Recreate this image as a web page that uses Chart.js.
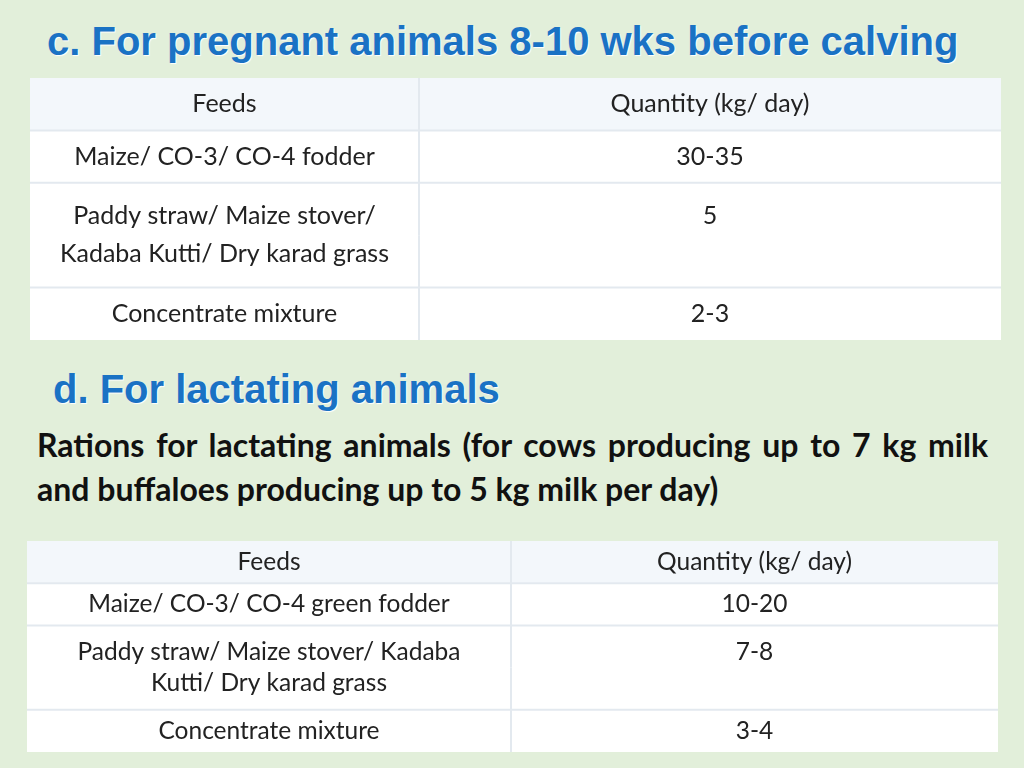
<!DOCTYPE html>
<html>
<head>
<meta charset="utf-8">
<script src="https://cdn.jsdelivr.net/npm/chart.js@4/dist/chart.umd.min.js"></script>
<style>
  body { margin: 0; width: 1024px; height: 768px; background: #e2efda; position: relative; overflow: hidden; }
  h2 { position: absolute; margin: 0; font: bold 40px 'Liberation Sans', Arial, sans-serif; line-height: 40px;
       color: #1a72c4; text-shadow: 1px 1px 1px #ffffff; white-space: nowrap; }
  #headC { left: 47px; top: 21px; }
  #headD { left: 53px; top: 369px; }
  .para { position: absolute; left: 37px; width: 951px; font: bold 32px Lato, sans-serif;
          line-height: 44px; color: #111; white-space: nowrap; }
  #para1 { top: 423px; text-align: justify; text-align-last: justify; }
  #para2 { top: 467px; text-align: left; }
  .tbl { position: absolute; }
  #boxC { left: 30px; top: 78px; width: 971px; height: 262px; }
  #boxD { left: 27px; top: 541px; width: 971px; height: 211px; }
</style>
</head>
<body>
<h2 id="headC">c. For pregnant animals 8-10 wks before calving</h2>
<h2 id="headD">d. For lactating animals</h2>
<div class="para" id="para1">Rations for lactating animals (for cows producing up to 7 kg milk</div>
<div class="para" id="para2">and buffaloes producing up to 5 kg milk per day)</div>
<div class="tbl" id="boxC"><canvas id="tableC"></canvas></div>
<div class="tbl" id="boxD"><canvas id="tableD"></canvas></div>

<script>
// c. pregnant animals - one entry per text line
var feedsC = ['Feeds', 'Maize/ CO-3/ CO-4 fodder', 'Paddy straw/ Maize stover/', 'Kadaba Kutti/ Dry karad grass', 'Concentrate mixture'];
var qtyC = ['Quantity (kg/ day)', '30-35', '5', '', '2-3'];
var rowC = [0, 1, 2, 2, 3]; // table row each line belongs to

// d. lactating animals
var feedsD = ['Feeds', 'Maize/ CO-3/ CO-4 green fodder', 'Paddy straw/ Maize stover/ Kadaba', 'Kutti/ Dry karad grass', 'Concentrate mixture'];
var qtyD = ['Quantity (kg/ day)', '10-20', '7-8', '', '3-4'];
var rowD = [0, 1, 2, 2, 3];

// column widths (units on the x scale)
var colsC = [389, 582];
var colsD = [484, 487];

var lineColor = '#e3e9ef';

// draws grid lines and cell text from the bar elements
var cellText = {
    id: 'cellText',
    afterDatasetsDraw: function (chart) {
        var ctx = chart.ctx;
        var opts = chart.options.plugins.cellText;
        var rows = opts.rows;
        ctx.save();
        chart.data.datasets.forEach(function (ds, d) {
            var meta = chart.getDatasetMeta(d);
            meta.data.forEach(function (bar, i) {
                var left = Math.min(bar.base, bar.x), right = Math.max(bar.base, bar.x);
                var top = bar.y - bar.height / 2, bottom = bar.y + bar.height / 2;
                ctx.strokeStyle = lineColor;
                ctx.lineWidth = 2;
                ctx.beginPath();
                if (d > 0) { ctx.moveTo(left, top); ctx.lineTo(left, bottom); }
                if (i > 0 && rows[i] !== rows[i - 1]) { ctx.moveTo(left, top); ctx.lineTo(right, top); }
                ctx.stroke();
                // pull the lines of a two-line cell together
                var ty = bar.y;
                if (rows[i + 1] === rows[i]) ty = bottom - opts.gap / 2;
                else if (i > 0 && rows[i - 1] === rows[i]) ty = top + opts.gap / 2;
                var txt = ds.texts[i];
                if (txt) {
                    ctx.fillStyle = '#222';
                    ctx.font = opts.size + 'px Lato, sans-serif';
                    ctx.textAlign = 'center';
                    ctx.textBaseline = 'middle';
                    ctx.fillText(txt, (left + right) / 2, ty);
                }
            });
        });
        ctx.restore();
    }
};

function makeTable(id, feeds, qty, rows, cols, size, gap) {
    var fill = rows.map(function (r) { return r === 0 ? '#f3f7fb' : '#ffffff'; });
    return new Chart(document.getElementById(id), {
        type: 'bar',
        data: {
            labels: feeds,
            datasets: [
                { label: 'Feeds', data: feeds.map(function () { return cols[0]; }), texts: feeds,
                  backgroundColor: fill, borderWidth: 0 },
                { label: 'Quantity (kg/ day)', data: qty.map(function () { return cols[1]; }), texts: qty,
                  backgroundColor: fill, borderWidth: 0 }
            ]
        },
        options: {
            indexAxis: 'y',
            animation: false,
            responsive: true,
            maintainAspectRatio: false,
            layout: { padding: 0 },
            datasets: { bar: { barPercentage: 1, categoryPercentage: 1 } },
            scales: {
                x: { stacked: true, display: false, min: 0, max: cols[0] + cols[1] },
                y: { stacked: true, display: false }
            },
            plugins: {
                colors: { enabled: false },
                legend: { display: false },
                tooltip: { enabled: false },
                cellText: { rows: rows, size: size, gap: gap }
            }
        },
        plugins: [cellText]
    });
}

makeTable('tableC', feedsC, qtyC, rowC, colsC, 25, 38);
makeTable('tableD', feedsD, qtyD, rowD, colsD, 24.5, 31);
</script>
</body>
</html>
